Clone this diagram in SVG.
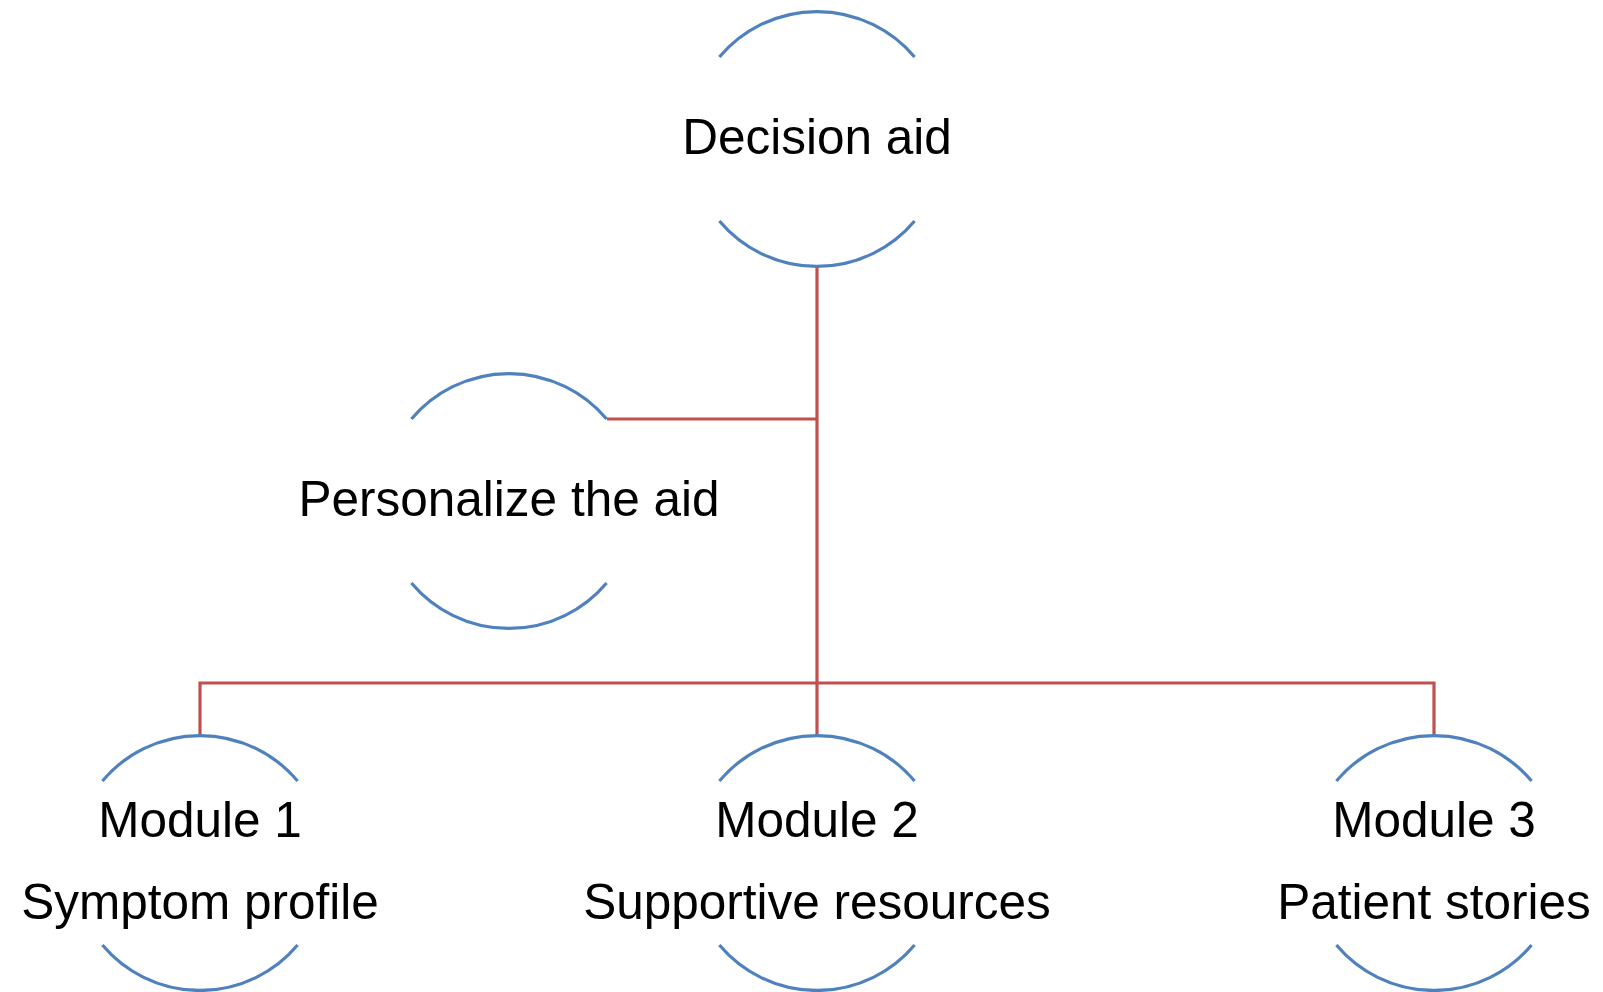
<svg xmlns="http://www.w3.org/2000/svg" width="1603" height="992" viewBox="0 0 1603 992">
  <style>
    .arc { fill: none; stroke: #4F81BD; stroke-width: 3.2; }
    .link { fill: none; stroke: #C0504D; stroke-width: 3.2; }
    .label { font-family: "Liberation Sans", Arial, sans-serif; font-size: 49.5px; fill: #000; text-anchor: middle; }
  </style>
  <rect width="1603" height="992" fill="#fff"/>

  <!-- tree connectors -->
  <g id="connectors">
    <path class="link" d="M817 266 V735"/>
    <path class="link" d="M607 419 H817"/>
    <path class="link" d="M200 735 V683 H1434 V735"/>
  </g>

  <!-- each node: an upper and a lower arc of a circle (r 127.5) round its label -->
  <g id="node-decision-aid">
    <path class="arc" d="M719.4 57 A127.5 127.5 0 0 1 914.6 57"/>
    <path class="arc" d="M719.4 221 A127.5 127.5 0 0 0 914.6 221"/>
    <text class="label" x="817" y="154">Decision aid</text>
  </g>

  <g id="node-personalize">
    <path class="arc" d="M411.4 419 A127.5 127.5 0 0 1 606.6 419"/>
    <path class="arc" d="M411.4 583 A127.5 127.5 0 0 0 606.6 583"/>
    <text class="label" x="509" y="516">Personalize the aid</text>
  </g>

  <g id="node-module-1">
    <path class="arc" d="M102.4 781 A127.5 127.5 0 0 1 297.6 781"/>
    <path class="arc" d="M102.4 945 A127.5 127.5 0 0 0 297.6 945"/>
    <text class="label" x="200" y="837">Module 1</text>
    <text class="label" x="200" y="919">Symptom profile</text>
  </g>

  <g id="node-module-2">
    <path class="arc" d="M719.4 781 A127.5 127.5 0 0 1 914.6 781"/>
    <path class="arc" d="M719.4 945 A127.5 127.5 0 0 0 914.6 945"/>
    <text class="label" x="817" y="837">Module 2</text>
    <text class="label" x="817" y="919">Supportive resources</text>
  </g>

  <g id="node-module-3">
    <path class="arc" d="M1336.4 781 A127.5 127.5 0 0 1 1531.6 781"/>
    <path class="arc" d="M1336.4 945 A127.5 127.5 0 0 0 1531.6 945"/>
    <text class="label" x="1434" y="837">Module 3</text>
    <text class="label" x="1434" y="919">Patient stories</text>
  </g>
</svg>
